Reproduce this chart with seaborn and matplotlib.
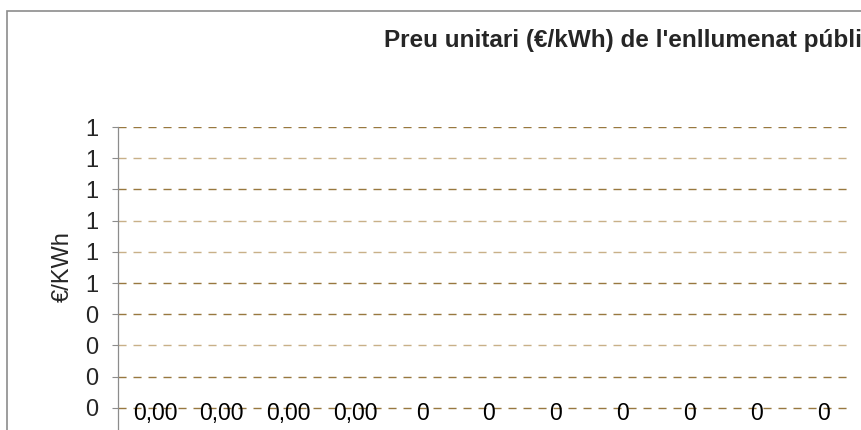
import numpy as np
import pandas as pd
import matplotlib
matplotlib.use("Agg")
import matplotlib.pyplot as plt
import seaborn as sns
from matplotlib.patches import Rectangle

# data
categories = ["1", "2", "3", "4", "5", "6", "7", "8", "9", "10", "11"]
prices = [0.0, 0.0, 0.0, 0.0, 0.0, 0.0, 0.0, 0.0, 0.0, 0.0, 0.0]
point_labels = ["0,00", "0,00", "0,00", "0,00", "0", "0", "0", "0", "0", "0", "0"]
y_ticks = [0.0, 0.1, 0.2, 0.3, 0.4, 0.5, 0.6, 0.7, 0.8, 0.9, 1.0]
y_tick_labels = ["0", "0", "0", "0", "0", "1", "1", "1", "1", "1", "1"]

sns.set_style("white")
plt.rcParams['font.family'] = ['Liberation Sans', 'DejaVu Sans']

df = pd.DataFrame({'Category': categories, 'Price': prices})
df['pos'] = range(len(df))

W, H = 861, 430
fig = plt.figure(figsize=(W / 100, H / 100), dpi=100)
ax = fig.add_axes([118 / W, (H - 439) / H, (853 - 118) / W, (439 - 127) / H])

#outer chart border (left and top visible)
fig.patches.append(Rectangle((7 / W, -0.2), 1.2, (H - 11) / H + 0.2,
                             transform=fig.transFigure, fill=False,
                             edgecolor='#8c8c8c', linewidth=1.2, zorder=0))

# gridlines, dashed brown (two shades as in the picture)
dark, light = '#98783f', '#c8b088'
grid_colors = [dark, dark, light, dark, dark, light, light, dark, light, dark]
for yv, c in zip(y_ticks[1:], grid_colors):
    ax.axhline(yv, color=c, linewidth=1.0, linestyle=(0, (5.8, 5.0)), zorder=1)

sns.lineplot(data=df, x='pos', y='Price', ax=ax, color='#1f3f7f', linewidth=1.5)

for i, (v, lab) in enumerate(zip(prices, point_labels)):
    ax.annotate(lab, (i, v), xytext=(2.5, 18.5), textcoords='offset points',
                ha='center', va='center', fontsize=16.5, color='black')

ax.set_xlim(-0.5, len(categories) - 0.5)
ax.set_ylim(0, 1.0)
ax.set_yticks(y_ticks)
ax.set_yticklabels(y_tick_labels, fontsize=17)
ax.set_xticks(df['pos'])
ax.set_xticklabels(categories)
ax.set_xlabel("")
ax.set_ylabel("")
ax.tick_params(axis='x', bottom=False, labelbottom=False)
ax.tick_params(axis='y', left=True, length=4.3, width=0.8, color='#8c8c8c', pad=10)
for s in ['top', 'right', 'bottom']:
    ax.spines[s].set_visible(False)
ax.spines['left'].set_color('#8c8c8c')
ax.spines['left'].set_linewidth(0.9)

fig.text(63 / W, 1 - 267 / H, "€/KWh", rotation=90, ha='center', va='center', fontsize=17)
fig.text(384 / W, 1 - 47 / H, "Preu unitari (€/kWh) de l'enllumenat públic",
         ha='left', va='baseline', fontsize=17.5, fontweight='bold')

fig.savefig("out.png", dpi=100)
